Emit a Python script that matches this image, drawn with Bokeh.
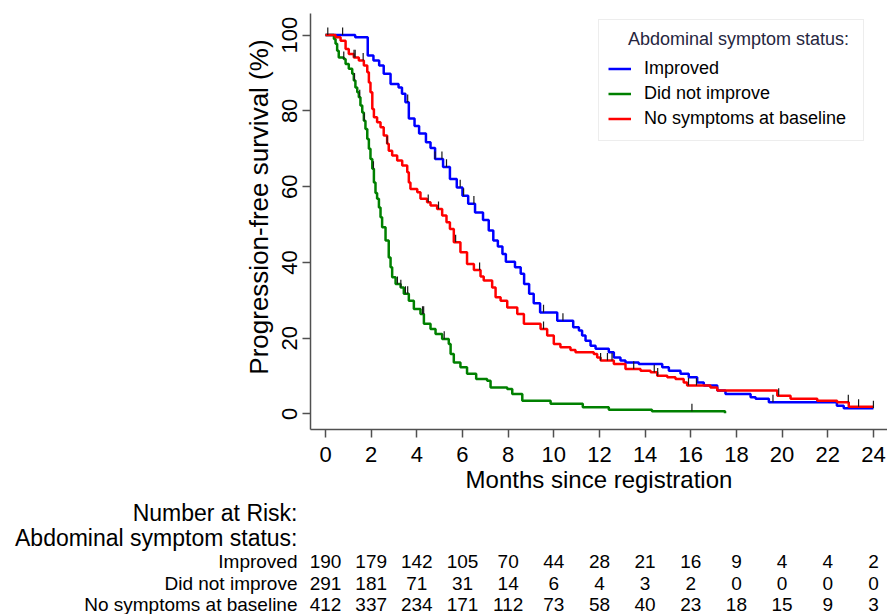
import numpy as np
from bokeh.plotting import figure
from bokeh.models import Range1d, FixedTicker, Legend, LegendItem, Label
from bokeh.embed import file_html
from bokeh.resources import INLINE

# ---- Kaplan-Meier step data (months, % progression-free) ----
imp_t = [0, 1.3, 1.85, 2.1, 2.35, 2.55, 2.85, 3.2, 3.35, 3.5, 3.65, 3.9, 4.1, 4.4, 4.6, 4.8,
         5.15, 5.45, 5.75, 6.0, 6.25, 6.55, 6.9, 7.15, 7.35, 7.55, 7.75, 7.9, 8.3, 8.55, 8.7,
         8.92, 9.12, 9.4, 10.15, 10.85, 11.1, 11.24, 11.39, 11.61, 11.83, 12.41, 12.63, 12.92,
         13.14, 13.72, 14.75, 15.04, 15.55, 15.91, 16.28, 16.57, 17.16, 17.52, 18.62, 18.84,
         19.42, 22.4, 22.7, 24.0]
imp_s = [100, 99.4, 94.6, 93.3, 92.0, 89.8, 87.1, 86.2, 84.5, 82.3, 78.0, 76.0, 74.0, 71.7, 70.2,
         67.3, 65.2, 62.0, 59.8, 57.6, 55.5, 53.2, 51.2, 48.4, 45.8, 44.2, 42.2, 40.2, 38.7, 37.0,
         34.3, 31.7, 29.2, 26.8, 24.6, 22.9, 22.0, 20.7, 19.3, 18.0, 17.2, 16.3, 14.9, 14.1, 13.6,
         13.2, 12.3, 11.4, 10.6, 9.7, 8.3, 7.5, 6.2, 5.3, 4.4, 4.0, 3.1, 2.2, 1.5, 1.5]

dni_t = [0, 0.37, 0.44, 0.51, 0.58, 0.8, 0.88, 1.02, 1.17, 1.24, 1.31, 1.39, 1.46, 1.53, 1.61,
         1.68, 1.75, 1.83, 1.9, 1.97, 2.05, 2.12, 2.19, 2.26, 2.34, 2.41, 2.48, 2.63, 2.77, 2.85,
         2.92, 3.07, 3.29, 3.43, 3.65, 3.87, 4.16, 4.31, 4.6, 4.82, 5.11, 5.4, 5.48, 5.62, 5.91,
         6.2, 6.6, 7.08, 7.23, 7.96, 8.18, 8.62, 9.86, 11.27, 12.41, 14.3, 17.5]
dni_s = [100, 99.0, 97.7, 95.9, 94.1, 93.7, 92.4, 91.1, 89.8, 88.0, 86.2, 84.9, 83.6, 81.4, 79.6,
         77.4, 75.2, 72.6, 70.0, 67.3, 64.7, 61.1, 58.3, 56.8, 54.5, 51.9, 49.3, 45.8, 41.3, 38.7,
         36.1, 34.3, 33.4, 31.7, 29.9, 27.7, 26.4, 23.8, 22.4, 21.1, 19.8, 18.5, 15.8, 13.6, 12.3,
         10.6, 9.2, 8.8, 7.0, 6.6, 5.3, 3.5, 2.7, 1.8, 1.1, 0.7, 0.2]

nsb_t = [0, 0.44, 0.66, 0.88, 1.02, 1.24, 1.46, 1.68, 1.83, 1.9, 1.97, 2.05, 2.12, 2.26, 2.41,
         2.55, 2.7, 2.77, 2.92, 3.14, 3.36, 3.58, 3.65, 3.72, 4.02, 4.16, 4.45, 4.6, 4.89, 5.11,
         5.3, 5.45, 5.62, 5.91, 6.2, 6.5, 6.79, 6.93, 7.3, 7.45, 7.67, 7.96, 8.4, 8.69, 9.42, 9.71,
         10.0, 10.29, 10.73, 10.95, 11.75, 11.9, 12.05, 12.63, 13.14, 13.8, 14.24, 14.53, 14.97,
         15.33, 15.69, 15.84, 16.86, 17.16, 19.79, 20.37, 21.54, 22.41, 22.92, 24.0]
nsb_s = [100, 99.4, 98.5, 96.3, 95.0, 94.1, 93.3, 92.0, 90.2, 87.5, 84.9, 80.5, 78.3, 77.0, 75.7,
         73.5, 71.3, 69.5, 68.2, 66.9, 65.6, 63.8, 61.1, 59.4, 58.5, 56.8, 55.9, 55.0, 54.1, 52.4,
         50.6, 48.8, 45.3, 42.7, 39.6, 38.0, 36.3, 35.2, 33.4, 30.8, 29.9, 28.1, 26.4, 23.8, 22.4,
         20.7, 18.5, 17.6, 16.9, 16.3, 15.8, 14.9, 14.1, 13.2, 11.9, 11.4, 11.0, 10.1, 9.7, 9.2,
         8.3, 7.5, 7.0, 6.2, 4.8, 4.0, 3.5, 3.1, 1.9, 1.9]

# censoring times
imp_cens = [0.75, 3.6, 4.8, 5.1, 5.3, 5.9, 6.05, 6.5, 9.55, 10.4, 19.6, 24.0]
dni_cens = [0.1, 0.8, 1.27, 1.5, 1.7, 2.1, 3.15, 3.3, 3.5, 3.6, 4.25, 4.3, 5.2, 16.05]
nsb_cens = [1.25, 1.3, 1.65, 2.7, 4.5, 4.95, 5.7, 6.75, 9.55, 12.05, 12.35, 12.55, 13.5, 14.4,
            14.55, 15.9, 16.25, 19.85, 22.9, 23.35]

# number at risk table
risk_times = [0, 2, 4, 6, 8, 10, 12, 14, 16, 18, 20, 22, 24]
risk_imp = [190, 179, 142, 105, 70, 44, 28, 21, 16, 9, 4, 4, 2]
risk_dni = [291, 181, 71, 31, 14, 6, 4, 3, 2, 0, 0, 0, 0]
risk_nsb = [412, 337, 234, 171, 112, 73, 58, 40, 23, 18, 15, 9, 3]

group_labels = ["Improved", "Did not improve", "No symptoms at baseline"]
group_colors = ["#0000ff", "#008000", "#ff0000"]

FONT = "Liberation Sans"

# ---- geometry ----
W = 887
H1 = 500
H2 = 114
LEFT = 310            # x pixel of the y axis
ZERO_PX = 325         # x pixel of month 0
PX_PER_MONTH = 22.83
x_start = (LEFT - ZERO_PX) / PX_PER_MONTH
x_end = (W - ZERO_PX) / PX_PER_MONTH

p = figure(width=W, height=H1, output_backend="svg", toolbar_location=None,
           x_range=Range1d(x_start, x_end), y_range=Range1d(-4.1, 105.7),
           min_border_left=LEFT, min_border_right=0, min_border_top=13,
           min_border_bottom=H1 - 429)
p.outline_line_color = None
p.xgrid.visible = False
p.ygrid.visible = False
p.background_fill_color = "white"
p.border_fill_color = "white"

curves = [(imp_t, imp_s, imp_cens), (dni_t, dni_s, dni_cens), (nsb_t, nsb_s, nsb_cens)]
renderers = []
for (t, s, c), col in zip(curves, group_colors):
    r = p.step(t, s, mode="after", line_color=col, line_width=2.5)
    renderers.append(r)
for (t, s, c), col in zip(curves, group_colors):
    ta = np.array(t); sa = np.array(s)
    idx = np.searchsorted(ta, np.array(c), side="right") - 1
    yv = sa[idx]
    p.segment(x0=c, y0=yv, x1=c, y1=yv + 2.0, line_color="#1a1a1a", line_width=1.2)

# axes
p.xaxis.ticker = FixedTicker(ticks=risk_times)
p.yaxis.ticker = FixedTicker(ticks=[0, 20, 40, 60, 80, 100])
for ax in (p.xaxis[0], p.yaxis[0]):
    ax.axis_line_color = "#505050"
    ax.axis_line_width = 1.5
    ax.major_tick_line_color = "#505050"
    ax.major_tick_line_width = 1.5
    ax.major_tick_in = 0
    ax.major_tick_out = 8
    ax.minor_tick_line_color = None
    ax.major_label_text_color = "black"
    ax.major_label_text_font = FONT
    ax.major_label_text_font_size = "22px"
    ax.axis_label_text_font = FONT
    ax.axis_label_text_font_style = "normal"
    ax.axis_label_text_color = "black"
p.xaxis.major_label_standoff = 9
p.xaxis.axis_label = "Months since registration"
p.xaxis.axis_label_text_font_size = "24px"
p.xaxis.axis_label_standoff = 1
p.yaxis.major_label_orientation = "vertical"
p.yaxis.major_label_standoff = 5
p.yaxis.axis_label = "\u00a0\u00a0\u00a0\u00a0Progression-free survival (%)"
p.yaxis.axis_label_text_font_size = "26px"
p.yaxis.axis_label_standoff = 6

# legend
legend = Legend(items=[LegendItem(label=l, renderers=[r]) for l, r in zip(group_labels, renderers)],
                location=(288, 288))
legend.title = "\u00a0\u00a0\u00a0\u00a0Abdominal symptom status:\u00a0"
legend.title_text_font = FONT
legend.title_text_font_size = "18px"
legend.title_text_font_style = "normal"
legend.title_text_color = "#262640"
legend.title_standoff = 6
legend.label_text_font = FONT
legend.label_text_font_size = "18px"
legend.label_text_color = "black"
legend.glyph_width = 23
legend.glyph_height = 25
legend.label_height = 25
legend.spacing = 0
legend.label_standoff = 13
legend.padding = 9
legend.border_line_color = "#dcdcdc"
legend.border_line_width = 1
legend.background_fill_color = "white"
legend.background_fill_alpha = 1.0
p.add_layout(legend, "center")

# ---- number at risk table (same month scale, full-width frame, separate root) ----
t2 = figure(width=W, height=H2, output_backend="svg", toolbar_location=None,
            x_range=Range1d(-ZERO_PX / PX_PER_MONTH, x_end), y_range=Range1d(0, H2),
            min_border_left=0, min_border_right=0, min_border_top=0, min_border_bottom=0,
            x_axis_type=None, y_axis_type=None)
t2.outline_line_color = None
t2.xgrid.visible = False
t2.ygrid.visible = False
t2.background_fill_color = "white"
t2.border_fill_color = "white"

LAB_RIGHT = 297
t2.add_layout(Label(x=LAB_RIGHT, y=H2 - 12, x_units="screen", y_units="screen",
                    text="Number at Risk:", text_align="right", text_baseline="middle",
                    text_font=FONT, text_font_size="23px", text_color="black"))
t2.add_layout(Label(x=LAB_RIGHT, y=H2 - 37, x_units="screen", y_units="screen",
                    text="Abdominal symptom status:", text_align="right", text_baseline="middle",
                    text_font=FONT, text_font_size="23px", text_color="black"))
row_y = [H2 - 61, H2 - 83, H2 - 104]
for lab, vals, yy in zip(group_labels, [risk_imp, risk_dni, risk_nsb], row_y):
    t2.add_layout(Label(x=LAB_RIGHT, y=yy, x_units="screen", y_units="screen", text=lab,
                        text_align="right", text_baseline="middle", text_font=FONT,
                        text_font_size="19px", text_color="black"))
    for tt, v in zip(risk_times, vals):
        t2.add_layout(Label(x=tt, y=yy, x_units="data", y_units="screen", text=str(v),
                            text_align="center", text_baseline="middle", text_font=FONT,
                            text_font_size="19px", text_color="black"))

open("out.html", "w").write(file_html([p, t2], INLINE))
